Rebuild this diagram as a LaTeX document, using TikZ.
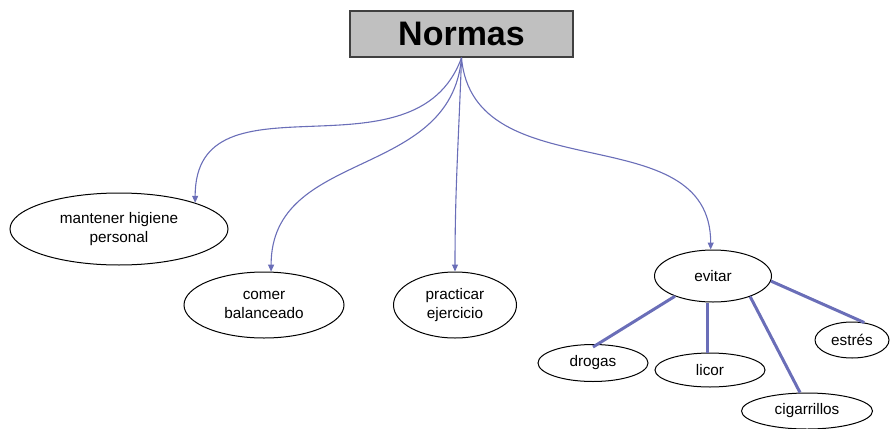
\documentclass[tikz,border=0pt]{standalone}
\usepackage{fontspec}
\setmainfont{Liberation Sans}
\usetikzlibrary{arrows.meta,shapes.geometric}
\definecolor{linkblue}{HTML}{6A6EB8}
\definecolor{boxgray}{HTML}{C0C0C0}
\tikzset{
  idea/.style={draw, ellipse, inner sep=0pt, align=center, line width=1pt,
    font=\fontsize{15.3}{18.5}\selectfont},
  link/.style={linkblue, line width=1.1pt, -{Triangle[length=7pt,width=6pt]}},
  bar/.style={linkblue, line width=3pt},
}
\begin{document}
\begin{tikzpicture}[x=1pt,y=-1pt]
      \useasboundingbox (0,0) rectangle (890,428);
      \node[draw=black!75, fill=boxgray, line width=1.5pt, minimum width=223pt,
        minimum height=46pt, font=\fontsize{34}{40}\selectfont\bfseries]
        (normas) at (461.5,34) {Normas};
      \node[idea, minimum width=218pt, minimum height=72pt] (higiene) at (119,229) {mantener higiene\\personal};
      \node[idea, minimum width=160pt, minimum height=66pt] (comer) at (264,305) {comer\\balanceado};
      \node[idea, minimum width=123pt, minimum height=66pt] (ejercicio) at (455,305) {practicar\\ejercicio};
      \node[idea, minimum width=117pt, minimum height=52pt] (evitar) at (713,276) {evitar};
      \node[idea, minimum width=110pt, minimum height=37pt] (drogas) at (593,363) {drogas};
      \node[idea, minimum width=110pt, minimum height=34pt] (licor) at (710,370) {licor};
      \node[idea, minimum width=131pt, minimum height=36pt] (cigarrillos) at (807,411) {cigarrillos};
      \node[idea, minimum width=74pt, minimum height=36pt] (estres) at (852,340) {estrés};
      \begin{scope}
        \draw[link] (normas.south) to[out=-110,in=90,looseness=1.15] (higiene.19);
        \draw[link] (normas.south) to[out=-95,in=90,looseness=1.1] (comer.78);
        \draw[link] (normas.south) to[out=-92,in=90] (ejercicio.north);
        \draw[link] (normas.south) to[out=-85,in=90,looseness=1.1] (evitar.95);
      \end{scope}
      \begin{scope}[bar]
        \draw (evitar.208) -- ([yshift=-3pt]drogas.north);
        \draw ([xshift=-3pt]licor.north |- evitar.south) -- ([xshift=-3pt]licor.north);
        \draw (evitar.331) -- ([xshift=-7pt]cigarrillos.north);
        \draw (evitar.355) -- (estres.55);
      \end{scope}
\end{tikzpicture}
\end{document}
